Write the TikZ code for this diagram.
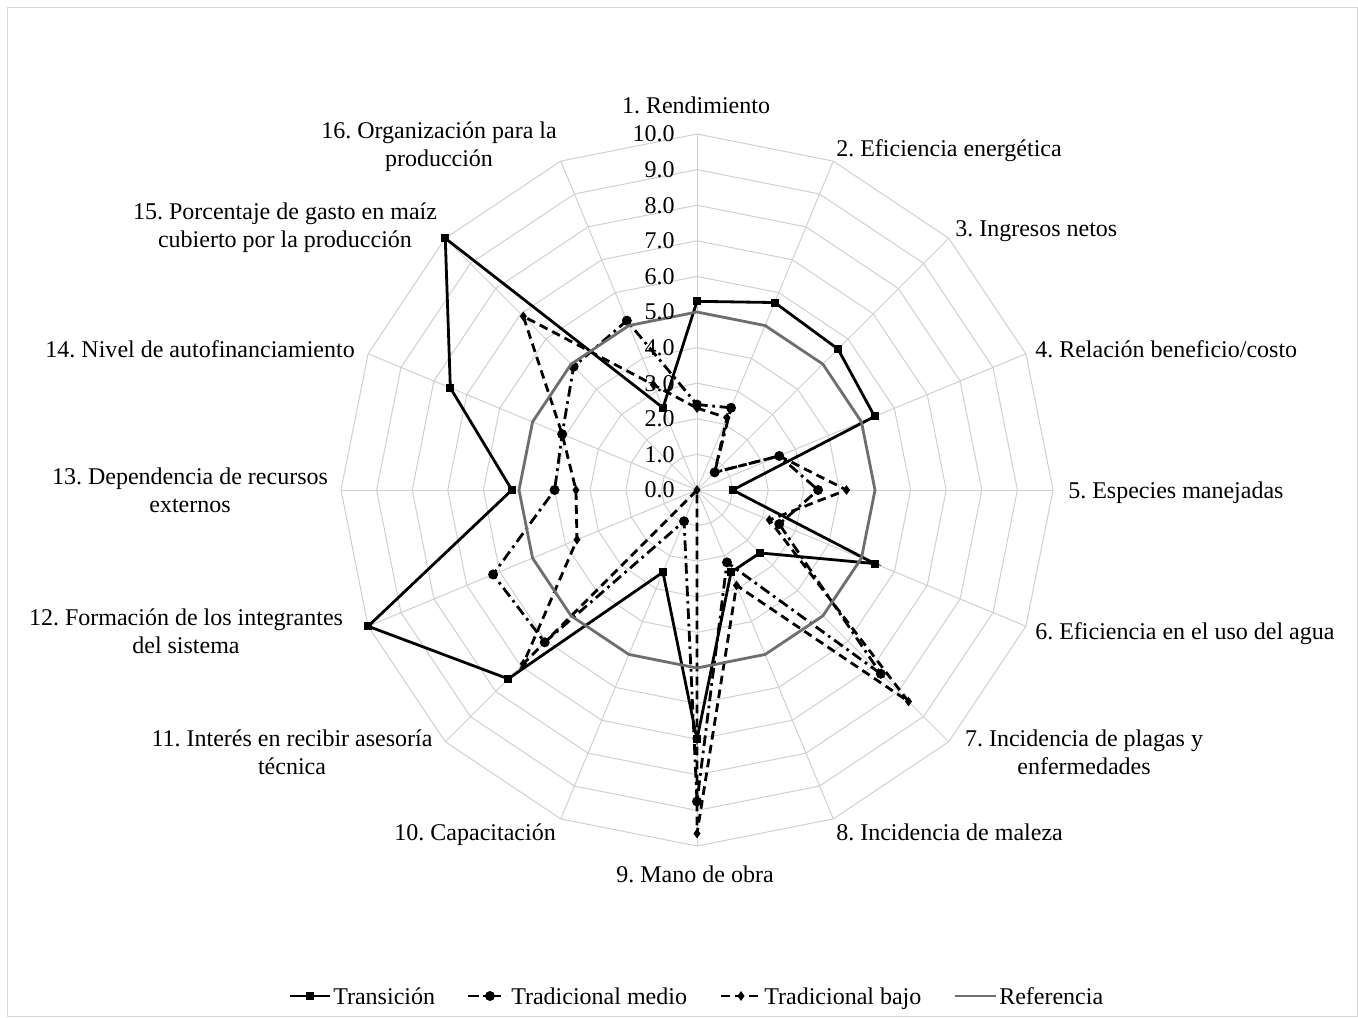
\documentclass[tikz,border=0pt]{standalone}
\usepackage{fontspec}
\setmainfont{Liberation Serif}
\usetikzlibrary{shapes.geometric}
\frenchspacing
\definecolor{gridc}{HTML}{D0D0D0}
\definecolor{refc}{HTML}{6E6E6E}
\definecolor{framec}{HTML}{D9D9D9}
\tikzset{
  gridline/.style={draw=gridc, line width=0.75pt},
  transline/.style={black, line width=2.1pt},
  medioline/.style={black, line width=2.1pt, dash pattern=on 8pt off 3.5pt on 2pt off 3.5pt},
  bajoline/.style={black, line width=2.1pt, dash pattern=on 6.5pt off 4pt},
  refline/.style={refc, line width=2.1pt},
  sqmark/.style={rectangle, fill=black, inner sep=0pt, minimum size=6pt},
  dotmark/.style={circle, fill=black, inner sep=0pt, minimum size=7.5pt},
  dmdmark/.style={diamond, fill=black, inner sep=0pt, minimum width=5.5pt, minimum height=7.5pt},
  axislabel/.style={font=\fontsize{18}{21}\selectfont, inner sep=0pt},
  ticklabel/.style={font=\fontsize{18}{21}\selectfont, inner sep=0pt, anchor=east},
}
\begin{document}
\begin{tikzpicture}[x=0.75pt, y=-0.75pt]
\useasboundingbox (0,0) rectangle (1358,1017);
\fill[white] (0,0) rectangle (1358,1017);
\draw[framec, line width=0.75pt] (7.5,7.5) rectangle (1357,1016);

\coordinate (C) at (697,490);

% concentric 16-gons, one per unit from 1 to 10 (35.6 px per unit)
\foreach \r in {1,...,10}
  \draw[gridline] plot[samples at={0,...,15}]
    ({697+35.6*\r*cos(-90+22.5*\x)},{490+35.6*\r*sin(-90+22.5*\x)}) -- cycle;
% spokes
\foreach \k in {0,...,15}
  \coordinate (S\k) at ({697+356*cos(-90+22.5*\k)},{490+356*sin(-90+22.5*\k)});
\foreach \k in {0,...,15}
  \draw[gridline] (C) -- (S\k);

% data points of the four series
\foreach \v [count=\k from 0] in {5.3,5.7,5.6,5.4,1.0,5.4,2.5,2.5,7.0,2.5,7.5,10,5.2,7.5,10,2.5}
  \coordinate (T\k) at ({697+35.6*\v*cos(-90+22.5*\k)},{490+35.6*\v*sin(-90+22.5*\k)});
\foreach \v [count=\k from 0] in {2.4,2.5,0.7,2.5,3.4,2.5,7.3,2.2,8.75,0.95,6.05,6.2,4.0,4.1,4.9,5.15}
  \coordinate (M\k) at ({697+35.6*\v*cos(-90+22.5*\k)},{490+35.6*\v*sin(-90+22.5*\k)});
\foreach \v [count=\k from 0] in {2.3,2.2,0.7,2.5,4.2,2.2,8.4,2.9,9.65,0,6.9,3.65,3.4,4.1,6.9,3.2}
  \coordinate (B\k) at ({697+35.6*\v*cos(-90+22.5*\k)},{490+35.6*\v*sin(-90+22.5*\k)});
\foreach \k in {0,...,15}
  \coordinate (R\k) at ({697+178*cos(-90+22.5*\k)},{490+178*sin(-90+22.5*\k)});

% Transición
\draw[transline] (T0) \foreach \k in {1,...,15}{ -- (T\k)} -- cycle;
\foreach \k in {0,...,15} \node[sqmark] (mT\k) at (T\k) {};
% Tradicional medio
\draw[medioline] (M0) \foreach \k in {1,...,15}{ -- (M\k)} -- cycle;
\foreach \k in {0,...,15} \node[dotmark] (mM\k) at (M\k) {};
% Tradicional bajo
\draw[bajoline] (B0) \foreach \k in {1,...,15}{ -- (B\k)} -- cycle;
\foreach \k in {0,...,15} \node[dmdmark] (mB\k) at (B\k) {};
% Referencia
\draw[refline] (R0) \foreach \k in {1,...,15}{ -- (R\k)} -- cycle;

% radial scale
\foreach \v in {0,...,10}
  \node[ticklabel] (tk\v) at (675,{490-35.6*\v}) {\v.0};

% category labels (single lines placed on their baseline)
\node[axislabel, anchor=base] (L1) at (696,113) {1. Rendimiento};
\node[axislabel, anchor=base west] (L2) at (836,156) {2. Eficiencia energética};
\node[axislabel, anchor=base west] (L3) at (955,236) {3. Ingresos netos};
\node[axislabel, anchor=base west] (L4) at (1035,357) {4. Relación beneficio/costo};
\node[axislabel, anchor=base west] (L5) at (1068,498) {5. Especies manejadas};
\node[axislabel, anchor=base west] (L6) at (1035,639) {6. Eficiencia en el uso del agua};
\node[axislabel, align=center] (L7) at (1084,752) {7. Incidencia de plagas y\\enfermedades};
\node[axislabel, anchor=base west] (L8) at (836,840) {8. Incidencia de maleza};
\node[axislabel, anchor=base] (L9) at (695,882) {9. Mano de obra};
\node[axislabel, anchor=base east] (L10) at (556,840) {10. Capacitación};
\node[axislabel, align=center] (L11) at (292,752) {11. Interés en recibir asesoría\\técnica};
\node[axislabel, align=center] (L12) at (186,631) {12. Formación de los integrantes\\del sistema};
\node[axislabel, align=center] (L13) at (190,490) {13. Dependencia de recursos\\externos};
\node[axislabel, anchor=base east] (L14) at (355,357) {14. Nivel de autofinanciamiento};
\node[axislabel, align=center] (L15) at (285,228) {15. Porcentaje de gasto en maíz\\cubierto por la producción};
\node[axislabel, align=center] (L16) at (439,147) {16. Organización para la\\producción};

% legend
\coordinate (g1a) at (290,996); \coordinate (g1b) at (330,996);
\draw[transline] (g1a) -- (g1b);
\node[sqmark] (g1m) at (310,996) {};
\node[axislabel, anchor=base west] (g1t) at (333,1004) {Transición};
\coordinate (g2a) at (468,996); \coordinate (g2b) at (506,996);
\draw[medioline] (g2a) -- (g2b);
\node[dotmark] (g2m) at (490,996) {};
\node[axislabel, anchor=base west] (g2t) at (511,1004) {Tradicional medio};
\coordinate (g3a) at (721,996); \coordinate (g3b) at (762,996);
\draw[bajoline] (g3a) -- (g3b);
\node[dmdmark] (g3m) at (741,996) {};
\node[axislabel, anchor=base west] (g3t) at (764,1004) {Tradicional bajo};
\coordinate (g4a) at (955,996); \coordinate (g4b) at (996,996);
\draw[refline] (g4a) -- (g4b);
\node[axislabel, anchor=base west] (g4t) at (999,1004) {Referencia};
\end{tikzpicture}
\end{document}
